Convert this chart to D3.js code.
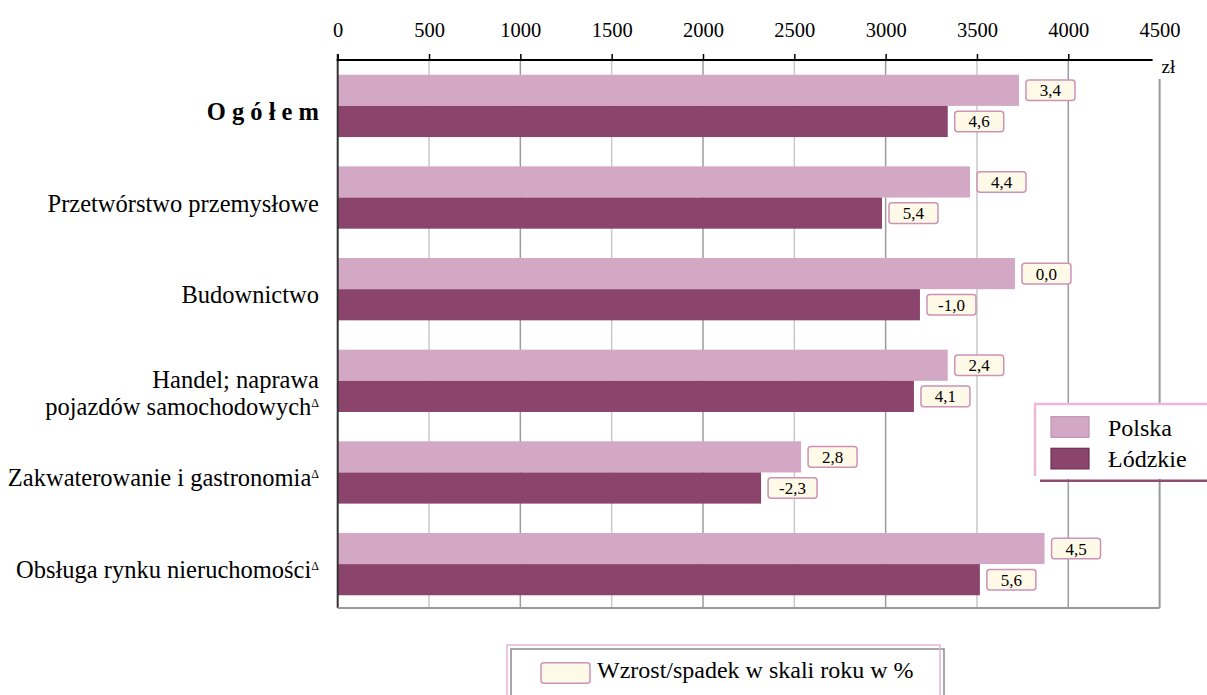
<!DOCTYPE html>
<html><head><meta charset="utf-8">
<script src="https://cdn.jsdelivr.net/npm/d3@7"></script>
<style>
body{margin:0;background:#fff}
svg{display:block}
text{font-family:"Liberation Serif","Times New Roman",serif;fill:#000}
</style>
</head><body><svg id="c" width="1207" height="695"></svg>
<script>
const categories = ["O g ó ł e m","Przetwórstwo przemysłowe","Budownictwo","Handel; naprawa\npojazdów samochodowych","Zakwaterowanie i gastronomia","Obsługa rynku nieruchomości"];
const deltaMark = [false,false,false,true,true,true];
const seriesNames = ["Polska","Łódzkie"];
const polska = [3730,3462,3708,3340,2537,3870];
const lodzkie = [3340,2980,3188,3155,2318,3516];
const changePolska = ["3,4","4,4","0,0","2,4","2,8","4,5"];
const changeLodzkie = ["4,6","5,4","-1,0","4,1","-2,3","5,6"];
const xTicks = [0,500,1000,1500,2000,2500,3000,3500,4000,4500];
const unitLabel = "zł";
const changeLegend = "Wzrost/spadek w skali roku w %";

const colors = {Polska:"#d3a8c5", "Łódzkie":"#8b456c"};
const strokeColors = {Polska:"#c090b2", "Łódzkie":"#6c3052"};
const boxFill = "#fff9e7", boxStroke = "#cc93b6";

const svg = d3.select("#c");
const x = d3.scaleLinear().domain([0,4500]).range([337.7,1159.6]);
const y = d3.scaleBand().domain(categories).range([61,609]).paddingInner(0.32).paddingOuter(0.15);
const ys = d3.scaleBand().domain(seriesNames).range([0,y.bandwidth()]);
const axisY = 60, bottomY = 608;

// gridlines
svg.append("g").selectAll("line").data(xTicks.filter(t=>t>0 && t<4500)).join("line")
  .attr("x1",d=>x(d)).attr("x2",d=>x(d)).attr("y1",axisY).attr("y2",bottomY)
  .attr("stroke",d=>d%1000===0?"#9c9c9c":"#c9c9c9").attr("stroke-width",1.5);

// bars
const rows = categories.map((c,i)=>({cat:c, vals:[
  {s:"Polska", v:polska[i], ch:changePolska[i]},
  {s:"Łódzkie", v:lodzkie[i], ch:changeLodzkie[i]}]}));
const g = svg.append("g").selectAll("g").data(rows).join("g")
  .attr("transform",d=>`translate(0,${y(d.cat)})`);
g.selectAll("rect").data(d=>d.vals).join("rect")
  .attr("x",x(0)).attr("y",d=>ys(d.s)).attr("width",d=>x(d.v)-x(0)).attr("height",ys.bandwidth())
  .attr("fill",d=>colors[d.s]);

// change labels
const bw=49, bh=20.6;
const lb = g.selectAll("g.lb").data(d=>d.vals).join("g").attr("class","lb")
  .attr("transform",d=>`translate(${x(d.v)+7},${ys(d.s)+ys.bandwidth()/2})`);
lb.append("rect").attr("x",0).attr("y",-bh/2).attr("width",bw).attr("height",bh).attr("rx",3)
  .attr("fill",boxFill).attr("stroke",boxStroke).attr("stroke-width",1.5);
lb.append("text").attr("x",bw/2).attr("y",6).attr("text-anchor","middle").attr("font-size",17).text(d=>d.ch);

// frame
svg.append("line").attr("x1",x(0)).attr("x2",x(0)).attr("y1",54).attr("y2",bottomY).attr("stroke","#333").attr("stroke-width",2);
svg.append("line").attr("x1",x(0)).attr("x2",x(4500)).attr("y1",bottomY).attr("y2",bottomY).attr("stroke","#999").attr("stroke-width",2);
svg.append("line").attr("x1",x(4500)).attr("x2",x(4500)).attr("y1",79).attr("y2",bottomY).attr("stroke","#999").attr("stroke-width",2);

// top axis
const ax = svg.append("g").attr("transform",`translate(0,${axisY})`)
  .call(d3.axisTop(x).tickValues(xTicks).tickSize(6).tickPadding(17).tickFormat(d=>String(d)));
ax.select(".domain").remove();
ax.selectAll(".tick line").attr("stroke","#000").attr("stroke-width",1.5).filter(d=>d===4500).remove();
ax.selectAll(".tick text").attr("font-size",20.5).attr("font-family","Liberation Serif");
svg.append("line").attr("x1",x(0)-1).attr("x2",x(4500)-7).attr("y1",axisY).attr("y2",axisY).attr("stroke","#000").attr("stroke-width",2);
svg.append("text").attr("x",x(4500)+2).attr("y",72.5).attr("font-size",19).text(unitLabel);

// category labels (one text element per category, lines as tspans)
categories.forEach((c,i)=>{
  const lines = c.split("\n");
  const cy = y(c)+y.bandwidth()/2;
  const t = svg.append("text").attr("text-anchor","end").attr("font-size",24.5)
    .attr("font-weight",i===0?"bold":null);
  lines.forEach((ln,j)=>{
    t.append("tspan").attr("x",319)
      .attr("y",cy+14-(lines.length-1)*7+j*27.5).text(ln);
    if(deltaMark[i] && j===lines.length-1){
      t.append("tspan").attr("font-size",12).attr("dy",-8).text("Δ");
    }
  });
});

// right legend
const L = svg.append("g");
L.append("rect").attr("x",1035).attr("y",404).attr("width",180).attr("height",75).attr("fill","#fff");
L.append("line").attr("x1",1035).attr("x2",1035).attr("y1",403).attr("y2",476).attr("stroke","#ebb9d7").attr("stroke-width",2.5);
L.append("line").attr("x1",1034).attr("x2",1207).attr("y1",404).attr("y2",404).attr("stroke","#ebb9d7").attr("stroke-width",2.5);
L.append("line").attr("x1",1040).attr("x2",1207).attr("y1",480.7).attr("y2",480.7).attr("stroke","#8b4f72").attr("stroke-width",2.5);
seriesNames.forEach((s,i)=>{
  L.append("rect").attr("x",1051).attr("y",416.7+i*31.6).attr("width",38).attr("height",20.6)
    .attr("fill",colors[s]).attr("stroke",strokeColors[s]).attr("stroke-width",1.2);
  L.append("text").attr("x",1108).attr("y",435.5+i*31.6).attr("font-size",24).text(s);
});

// bottom legend
const B = svg.append("g");
B.append("rect").attr("x",511).attr("y",649).attr("width",433).attr("height",70).attr("fill","none").attr("stroke","#8a8a8a").attr("stroke-width",1.5);
B.append("rect").attr("x",507).attr("y",645).attr("width",433).attr("height",70).attr("fill","none").attr("stroke","#e6b6d2").attr("stroke-width",1.5);
B.append("rect").attr("x",541).attr("y",662.7).attr("width",49).attr("height",20.6).attr("rx",3)
  .attr("fill",boxFill).attr("stroke",boxStroke).attr("stroke-width",1.5);
B.append("text").attr("x",597).attr("y",678).attr("font-size",24).text(changeLegend);
</script>
</body></html>
